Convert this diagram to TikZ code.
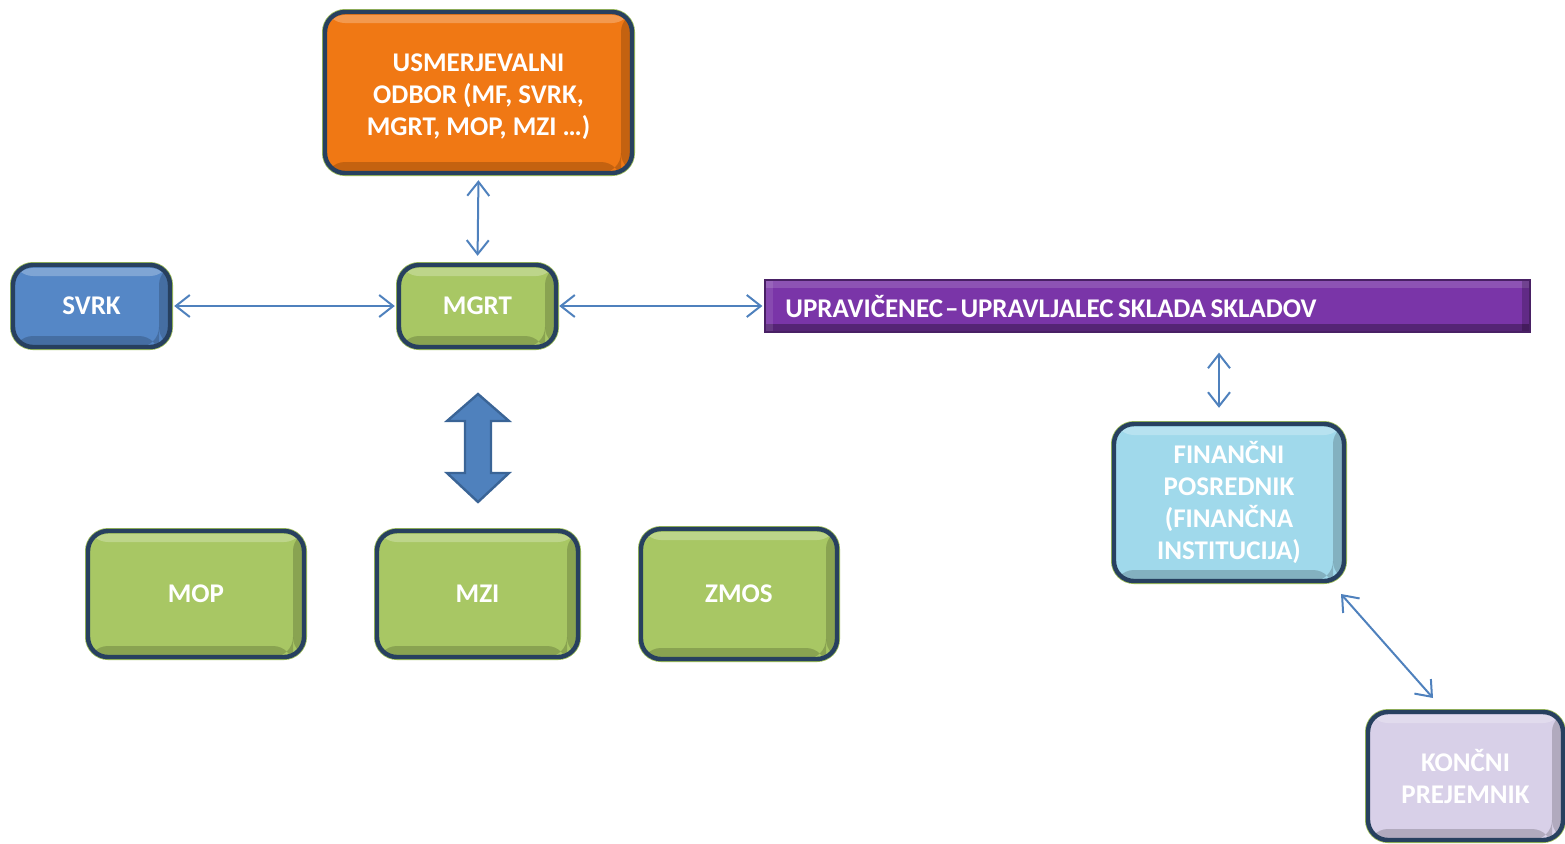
\documentclass[tikz,border=0pt]{standalone}
\usepackage{fontspec}
\setmainfont{Carlito}
\usetikzlibrary{arrows.meta,calc}
\definecolor{cOrange}{HTML}{F07814}
\definecolor{cBlue}{HTML}{5587C6}
\definecolor{cGreen}{HTML}{A8C764}
\definecolor{cPurple}{HTML}{7A35A8}
\definecolor{cLBlue}{HTML}{A0D9EB}
\definecolor{cLav}{HTML}{D8D0E8}
\definecolor{cEdge}{HTML}{27405F}
\definecolor{cRim}{HTML}{9BBB59}
\definecolor{cLine}{HTML}{4F81BD}
\definecolor{cBig}{HTML}{4F81BD}
\definecolor{cBigEdge}{HTML}{3A6496}
\tikzset{
  box/.style={rectangle, rounded corners=10pt, fill=#1, draw=cEdge, line width=2.2pt,
    preaction={draw=cRim, line width=3pt},
    text=white, font=\bfseries\fontsize{13.5}{16}\selectfont, align=center, inner sep=0pt,
    path picture={
      \fill[white,opacity=0.25] ([yshift=-1.5pt]path picture bounding box.north west) rectangle ([yshift=-5.5pt]path picture bounding box.north east);
      \fill[black,opacity=0.18] ([xshift=-5.5pt]path picture bounding box.north east) rectangle (path picture bounding box.south east);
      \fill[black,opacity=0.18] (path picture bounding box.south west) rectangle ([yshift=5.5pt,xshift=-5.5pt]path picture bounding box.south east);
    }},
  boxtext/.style={text=white, font=\bfseries\fontsize{13.5}{16}\selectfont, align=center, inner sep=0pt},
  bar/.style={rectangle, fill=cPurple, draw=cPurple!60!black, line width=0.6pt,
    inner sep=0pt,
    path picture={
      \fill[white,opacity=0.15] (path picture bounding box.north west) rectangle ([yshift=-4pt]path picture bounding box.north east);
      \fill[black,opacity=0.3] (path picture bounding box.south west) rectangle ([yshift=4pt]path picture bounding box.south east);
      \fill[black,opacity=0.2] ([xshift=-4pt]path picture bounding box.north east) rectangle (path picture bounding box.south east);
      \fill[white,opacity=0.1] (path picture bounding box.north west) rectangle ([xshift=4pt]path picture bounding box.south west);
    }},
  bartext/.style={anchor=west, text=white, font=\bfseries\fontsize{13.5}{16}\selectfont, inner sep=0pt},
  conn/.style={draw=cLine, line width=1pt, {Straight Barb[length=7pt,width=11pt]}-{Straight Barb[length=7pt,width=11pt]}},
}
\begin{document}
\begin{tikzpicture}[x=0.5pt,y=-0.5pt]
\useasboundingbox (0,0) rectangle (1565,843);
\node[box=cOrange, minimum width=153.5pt, minimum height=80.5pt] (odbor) at (478.5,92.5) {};
\node[boxtext] (odbortxt) at (478.5,97) {USMERJEVALNI\\ODBOR (MF, SVRK,\\MGRT, MOP, MZI \dots)};
\node[box=cBlue, minimum width=78.5pt, minimum height=41pt] (svrk) at (91.5,306) {SVRK};
\node[box=cGreen, minimum width=78.5pt, minimum height=41pt] (mgrt) at (477.5,306) {MGRT};
\node[bar, minimum width=382.5pt, minimum height=26pt] (upr) at (1147.5,306) {};
\node[bartext] (uprtxt) at (785,306) {\spaceskip=2.2pt\relax UPRAVIČENEC\kern1pt–\kern1pt UPRAVLJALEC SKLADA SKLADOV};
\node[box=cGreen, minimum width=108pt, minimum height=63pt] (mop) at (196,594) {MOP};
\node[box=cGreen, minimum width=100.5pt, minimum height=63pt] (mzi) at (477.5,594) {MZI};
\node[box=cGreen, minimum width=98pt, minimum height=65pt] (zmos) at (739,594) {ZMOS};
\node[box=cLBlue, minimum width=115pt, minimum height=78.5pt] (fin) at (1229,502.5) {FINANČNI\\POSREDNIK\\(FINANČNA\\INSTITUCIJA)};
\node[box=cLav, minimum width=97.5pt, minimum height=64pt] (kon) at (1465.5,776) {KONČNI\\PREJEMNIK};
% connectors
\draw[conn, shorten <=2.5pt, shorten >=3.5pt] (odbor.south) -- (mgrt.north);
\draw[conn, shorten <=1pt, shorten >=1pt] (svrk.east) -- (mgrt.west);
\draw[conn, shorten <=0.5pt, shorten >=1pt] (mgrt.east) -- (upr.west);
\coordinate (f1) at ([xshift=-5pt]fin.north);
\draw[conn, shorten <=10pt, shorten >=7pt] (f1 |- upr.south) -- (f1);
\coordinate (d1) at (1341,594);
\coordinate (d2) at (1433,698);
\draw[conn] (d1) -- (d2);
% big double arrow
\filldraw[fill=cBig, draw=cBigEdge, line width=1.2pt, line join=miter]
  (478,394) -- (509,421) -- (491,421) -- (491,473) -- (509,473) -- (478,502)
  -- (447,473) -- (465,473) -- (465,421) -- (447,421) -- cycle;
\end{tikzpicture}
\end{document}
